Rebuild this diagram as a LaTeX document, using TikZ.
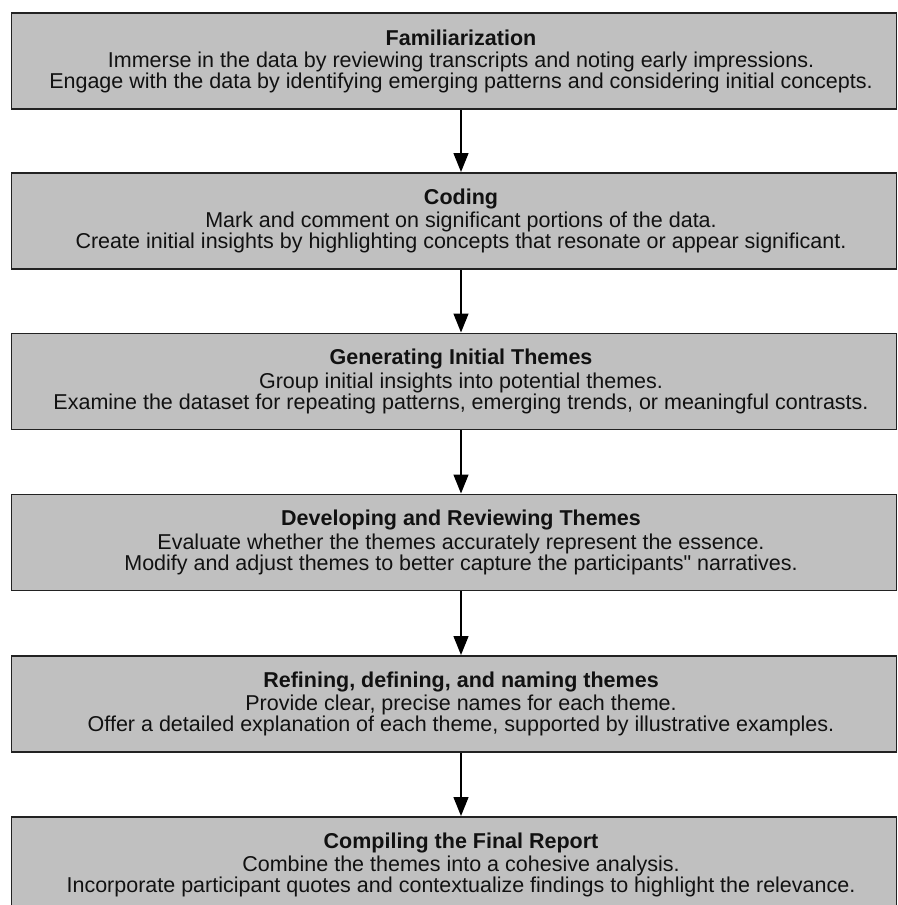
\documentclass[tikz,border=0pt]{standalone}
\usepackage{fontspec}
\setmainfont{Liberation Sans}
\usetikzlibrary{arrows.meta}
\definecolor{boxfill}{HTML}{C0C0C0}
\definecolor{boxline}{HTML}{222222}
\definecolor{ink}{HTML}{111111}
\tikzset{
  stepbox/.style={draw=boxline, line width=1.8pt, fill=boxfill, minimum width=885pt,
    minimum height=96pt, inner sep=0pt, anchor=north west},
  steptext/.style={text=ink, align=center, inner sep=0pt,
    font=\fontsize{21.5pt}{20pt}\selectfont},
  flow/.style={draw=black, line width=1.4pt, -{Triangle[width=15pt,length=19pt]}}
}
\newcommand{\stephead}[1]{\textbf{#1}\\[2pt]}
\begin{document}
\begin{tikzpicture}[x=1pt,y=-1pt]
\useasboundingbox (0,0) rectangle (897,905);
% the six stages, top to bottom
\node[stepbox] (b1) at (10.5,12) {};
\node[stepbox] (b2) at (10.5,172) {};
\node[stepbox] (b3) at (10.5,332.5) {};
\node[stepbox] (b4) at (10.5,493.5) {};
\node[stepbox] (b5) at (10.5,655) {};
\node[stepbox] (b6) at (10.5,816) {};
% stage labels
\node[steptext] (t1) at (461,61) {\stephead{Familiarization}Immerse in the data by reviewing transcripts and noting early impressions.\\Engage with the data by identifying emerging patterns and considering initial concepts.};
\node[steptext] (t2) at (461,221) {\stephead{Coding}Mark and comment on significant portions of the data.\\Create initial insights by highlighting concepts that resonate or appear significant.};
\node[steptext] (t3) at (461,381.5) {\stephead{Generating Initial Themes}Group initial insights into potential themes.\\Examine the dataset for repeating patterns, emerging trends, or meaningful contrasts.};
\node[steptext] (t4) at (461,542.5) {\stephead{Developing and Reviewing Themes}Evaluate whether the themes accurately represent the essence.\\Modify and adjust themes to better capture the participants\textquotedbl{} narratives.};
\node[steptext] (t5) at (461,704) {\stephead{Refining, defining, and naming themes}Provide clear, precise names for each theme.\\Offer a detailed explanation of each theme, supported by illustrative examples.};
\node[steptext] (t6) at (461,865) {\stephead{Compiling the Final Report}Combine the themes into a cohesive analysis.\\Incorporate participant quotes and contextualize findings to highlight the relevance.};
% connectors between consecutive stages
\draw[flow] (t1 |- b1.south) -- (t1 |- b2.north);
\draw[flow] (t2 |- b2.south) -- (t2 |- b3.north);
\draw[flow] (t3 |- b3.south) -- (t3 |- b4.north);
\draw[flow] (t4 |- b4.south) -- (t4 |- b5.north);
\draw[flow] (t5 |- b5.south) -- (t5 |- b6.north);
\end{tikzpicture}
\end{document}
